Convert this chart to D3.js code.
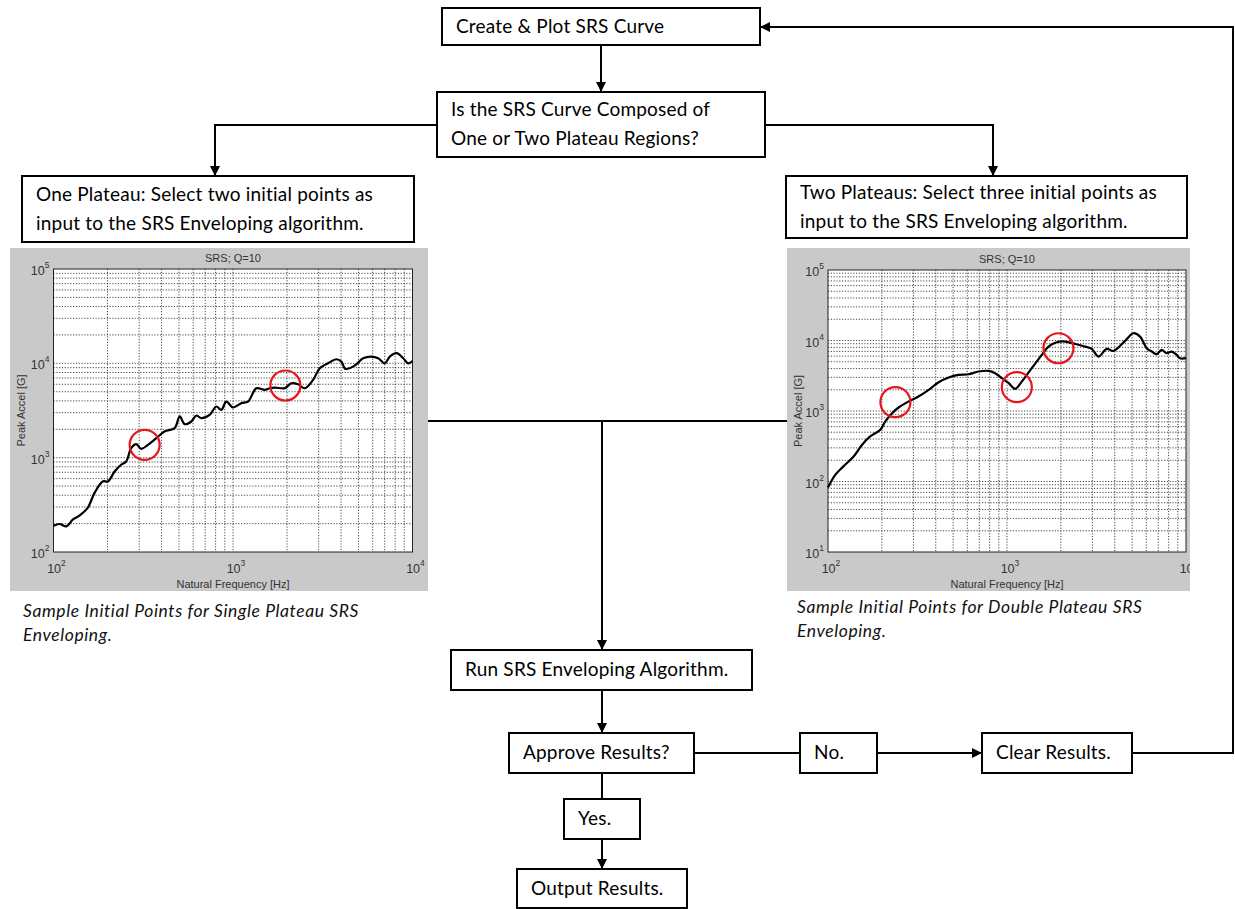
<!DOCTYPE html>
<html>
<head>
<meta charset="utf-8">
<script src="https://cdn.jsdelivr.net/npm/d3@7"></script>
<style>
body { margin: 0; background: #fff; }
.box text { font-family: Lato, "Open Sans", sans-serif; font-size: 19px; letter-spacing: 0.2px; fill: #000; }
.caption { font-family: Lato, "Open Sans", sans-serif; font-style: italic; font-size: 17.5px; letter-spacing: 0.6px; fill: #111; }
.mat text { font-family: "Liberation Sans", Arial, sans-serif; font-size: 11px; fill: #333; }
.mat .tick { font-size: 12.5px; }
</style>
</head>
<body>
<svg id="chart" width="1235" height="909"></svg>
<script>
// single plateau SRS curve (Hz, G)
var freqOne = [100, 108, 118, 128, 140, 155, 169, 188, 201, 219, 238, 254, 271, 289, 308, 336, 374, 415, 473, 505, 538,
    586, 625, 666, 741, 807, 861, 918, 1000, 1112, 1213, 1349, 1503, 1601, 1706, 1941, 2113, 2303, 2510, 2794, 3044,
    3385, 3768, 4018, 4228, 4766, 5306, 5906, 6434, 7011, 7477, 8150, 8880, 9470, 10000];
var accelOne = [190, 198, 187, 220, 244, 293, 421, 560, 560, 714, 841, 912, 1262, 1390, 1241, 1368, 1610, 1896, 2057, 2735, 2267,
    2418, 2797, 2622, 2844, 3484, 3212, 3935, 3402, 3778, 3935, 5445, 5233, 5445, 5537, 5445, 6154, 6000, 5445, 6677, 8879,
    10020, 11050, 10436, 8740, 9470, 11320, 11800, 11320, 10000, 11800, 12800, 11320, 10000, 10600];
var pickFreqOne = [322, 1958];
var pickAccelOne = [1368, 5820];

// double plateau SRS curve (Hz, G)
var freqTwo = [100, 110, 122, 139, 155, 172, 196, 209, 228, 248, 282, 320, 365, 415, 472, 536, 610, 693, 788, 859, 936, 1019,
    1110, 1210, 1375, 1565, 1706, 1897, 2113, 2400, 2730, 2977, 3243, 3608, 3933, 4570, 5080, 5535, 6035, 6440, 6860,
    7310, 7800, 8320, 8870, 9250, 10000];
var accelTwo = [82, 125, 164, 226, 332, 436, 541, 710, 931, 1121, 1364, 1604, 1995, 2560, 2985, 3254, 3325, 3630, 3710, 3437, 2917, 2500,
    2061, 2618, 4046, 6250, 8203, 9446, 9660, 8950, 8200, 7600, 5920, 7600, 7110, 9870, 12680, 11360, 7770, 6970, 6390,
    7360, 6600, 6970, 6250, 5610, 5610];
var pickFreqTwo = [238, 1135, 1938];
var pickAccelTwo = [1334, 2177, 7762];

var xTickPowers = [2, 3, 4];
var yTickPowersOne = [2, 3, 4, 5];
var yTickPowersTwo = [1, 2, 3, 4, 5];

var plotTitle = "SRS; Q=10";
var xTitle = "Natural Frequency [Hz]";
var yTitle = "Peak Accel [G]";

var stepLabels = ["Create & Plot SRS Curve",
    "Is the SRS Curve Composed of|One or Two Plateau Regions?",
    "One Plateau: Select two initial points as|input to the SRS Enveloping algorithm.",
    "Two Plateaus: Select three initial points as|input to the SRS Enveloping algorithm.",
    "Run SRS Enveloping Algorithm.",
    "Approve Results?",
    "Yes.",
    "Output Results.",
    "No.",
    "Clear Results."];
var captionOne = ["Sample Initial Points for Single Plateau SRS", "Enveloping."];
var captionTwo = ["Sample Initial Points for Double Plateau SRS", "Enveloping."];

var svg = d3.select("#chart");

svg.append("defs").append("marker")
    .attr("id", "arrow")
    .attr("viewBox", "0 0 10 10")
    .attr("refX", 10).attr("refY", 5)
    .attr("markerWidth", 5).attr("markerHeight", 5)
    .attr("markerUnits", "strokeWidth")
    .attr("orient", "auto")
  .append("path")
    .attr("d", "M0,0L10,5L0,10z")
    .attr("fill", "#000");

// draw one matlab-style srs plot
function srsPlot(frame, area, yPowers, freq, accel, pickF, pickA, id) {
    var g = svg.append("g").attr("class", "mat");

    g.append("clipPath").attr("id", id)
      .append("rect")
        .attr("x", frame.x).attr("y", frame.y)
        .attr("width", frame.w).attr("height", frame.h);
    g.attr("clip-path", "url(#" + id + ")");

    g.append("rect")
        .attr("x", frame.x).attr("y", frame.y)
        .attr("width", frame.w).attr("height", frame.h)
        .attr("fill", "#c9c9c9");

    var x = d3.scaleLog().domain([100, 10000]).range([area.left, area.right]);
    var y = d3.scaleLog()
        .domain([Math.pow(10, yPowers[0]), Math.pow(10, yPowers[yPowers.length - 1])])
        .range([area.bottom, area.top]);

    g.append("rect")
        .attr("x", area.left).attr("y", area.top)
        .attr("width", area.right - area.left).attr("height", area.bottom - area.top)
        .attr("fill", "#fff");

    // grid lines at every 1..9 x decade
    var xGrid = [], yGrid = [];
    for (var p = 2; p < 4; p++)
        for (var m = 1; m < 10; m++) xGrid.push(m * Math.pow(10, p));
    for (var q = yPowers[0]; q < yPowers[yPowers.length - 1]; q++)
        for (var n = 1; n < 10; n++) yGrid.push(n * Math.pow(10, q));

    g.selectAll(".gx").data(xGrid.slice(1)).enter().append("line")
        .attr("x1", function(d) { return x(d); }).attr("x2", function(d) { return x(d); })
        .attr("y1", area.top).attr("y2", area.bottom)
        .attr("stroke", "#333").attr("stroke-width", 0.9)
        .attr("stroke-dasharray", "1.2,1.6");
    g.selectAll(".gy").data(yGrid.slice(1)).enter().append("line")
        .attr("y1", function(d) { return y(d); }).attr("y2", function(d) { return y(d); })
        .attr("x1", area.left).attr("x2", area.right)
        .attr("stroke", "#333").attr("stroke-width", 0.9)
        .attr("stroke-dasharray", "1.2,1.6");

    g.append("rect")
        .attr("x", area.left).attr("y", area.top)
        .attr("width", area.right - area.left).attr("height", area.bottom - area.top)
        .attr("fill", "none").attr("stroke", "#222").attr("stroke-width", 1);

    // tick labels 10^n
    var xl = g.selectAll(".xl").data(xTickPowers).enter().append("text")
        .attr("class", "tick")
        .attr("x", function(d) { return x(Math.pow(10, d)) + 3; })
        .attr("y", area.bottom + 21)
        .attr("text-anchor", "middle");
    xl.append("tspan").text("10");
    xl.append("tspan").attr("dy", -7).attr("font-size", "8.5px").text(function(d) { return d; });

    var yl = g.selectAll(".yl").data(yPowers).enter().append("text")
        .attr("class", "tick")
        .attr("x", area.left - 4)
        .attr("y", function(d) { return y(Math.pow(10, d)) + 6; })
        .attr("text-anchor", "end");
    yl.append("tspan").text("10");
    yl.append("tspan").attr("dy", -7).attr("font-size", "8.5px").text(function(d) { return d; });

    var cx = (area.left + area.right) / 2;
    g.append("text").attr("x", cx).attr("y", area.top - 7)
        .attr("text-anchor", "middle").text(plotTitle);
    g.append("text").attr("x", cx).attr("y", area.bottom + 36)
        .attr("text-anchor", "middle").text(xTitle);
    g.append("text")
        .attr("transform", "translate(" + (frame.x + 15) + "," + ((area.top + area.bottom) / 2) + ") rotate(-90)")
        .attr("text-anchor", "middle").text(yTitle);

    var pts = freq.map(function(f, i) { return [f, accel[i]]; });
    var line = d3.line()
        .x(function(d) { return x(d[0]); })
        .y(function(d) { return y(d[1]); })
        .curve(d3.curveCatmullRom);
    g.append("path").datum(pts)
        .attr("d", line)
        .attr("fill", "none").attr("stroke", "#000").attr("stroke-width", 2.2);

    g.selectAll(".pick").data(pickF).enter().append("circle")
        .attr("cx", function(d) { return x(d); })
        .attr("cy", function(d, i) { return y(pickA[i]); })
        .attr("r", 15)
        .attr("fill", "none").attr("stroke", "#e8141c").attr("stroke-width", 2.2);
}

srsPlot({x: 10, y: 248, w: 418, h: 343}, {left: 53.5, right: 412.5, top: 269, bottom: 552},
    yTickPowersOne, freqOne, accelOne, pickFreqOne, pickAccelOne, "clipOne");
srsPlot({x: 787, y: 248, w: 403, h: 343}, {left: 828, right: 1186, top: 270, bottom: 552},
    yTickPowersTwo, freqTwo, accelTwo, pickFreqTwo, pickAccelTwo, "clipTwo");

// connectors
var links = [
    {pts: [[601, 45], [601, 92]], arrow: true},
    {pts: [[437, 125], [215, 125], [215, 176]], arrow: true},
    {pts: [[765, 125], [993, 125], [993, 176]], arrow: true},
    {pts: [[428, 421], [787, 421]], arrow: false},
    {pts: [[602, 421], [602, 650]], arrow: true},
    {pts: [[602, 690], [602, 733]], arrow: true},
    {pts: [[602, 773], [602, 799]], arrow: false},
    {pts: [[602, 839], [602, 869]], arrow: true},
    {pts: [[694, 753], [800, 753]], arrow: false},
    {pts: [[877, 753], [982, 753]], arrow: true},
    {pts: [[1132, 753], [1233, 753], [1233, 27], [760, 27]], arrow: true}
];
svg.selectAll(".link").data(links).enter().append("path")
    .attr("d", function(d) { return d3.line()(d.pts); })
    .attr("fill", "none").attr("stroke", "#000").attr("stroke-width", 2)
    .attr("marker-end", function(d) { return d.arrow ? "url(#arrow)" : null; });

// flow boxes
var boxes = [
    {x: 442, y: 8, w: 318, h: 37},
    {x: 437, y: 92, w: 328, h: 65},
    {x: 22, y: 176, w: 392, h: 66},
    {x: 786, y: 176, w: 401, h: 62},
    {x: 451, y: 650, w: 301, h: 40},
    {x: 509, y: 733, w: 185, h: 40},
    {x: 564, y: 799, w: 76, h: 40},
    {x: 517, y: 869, w: 170, h: 39},
    {x: 800, y: 733, w: 77, h: 40},
    {x: 982, y: 733, w: 150, h: 40}
];
var bg = svg.selectAll(".box").data(boxes).enter().append("g").attr("class", "box");
bg.append("rect")
    .attr("x", function(d) { return d.x; }).attr("y", function(d) { return d.y; })
    .attr("width", function(d) { return d.w; }).attr("height", function(d) { return d.h; })
    .attr("fill", "#fff").attr("stroke", "#000").attr("stroke-width", 2);
bg.each(function(d, i) {
    var lines = stepLabels[i].split("|");
    var t = d3.select(this).append("text");
    var lh = 29;
    var y0 = d.y + d.h / 2 - (lines.length - 1) * lh / 2 + 6;
    lines.forEach(function(s, k) {
        t.append("tspan").attr("x", d.x + 14).attr("y", y0 + k * lh).text(s);
    });
});

// captions under the plots
svg.selectAll(".capOne").data(captionOne).enter().append("text")
    .attr("class", "caption")
    .attr("x", 23).attr("y", function(d, i) { return 617 + i * 24; })
    .text(function(d) { return d; });
svg.selectAll(".capTwo").data(captionTwo).enter().append("text")
    .attr("class", "caption")
    .attr("x", 797).attr("y", function(d, i) { return 613 + i * 24; })
    .text(function(d) { return d; });
</script>
</body>
</html>
